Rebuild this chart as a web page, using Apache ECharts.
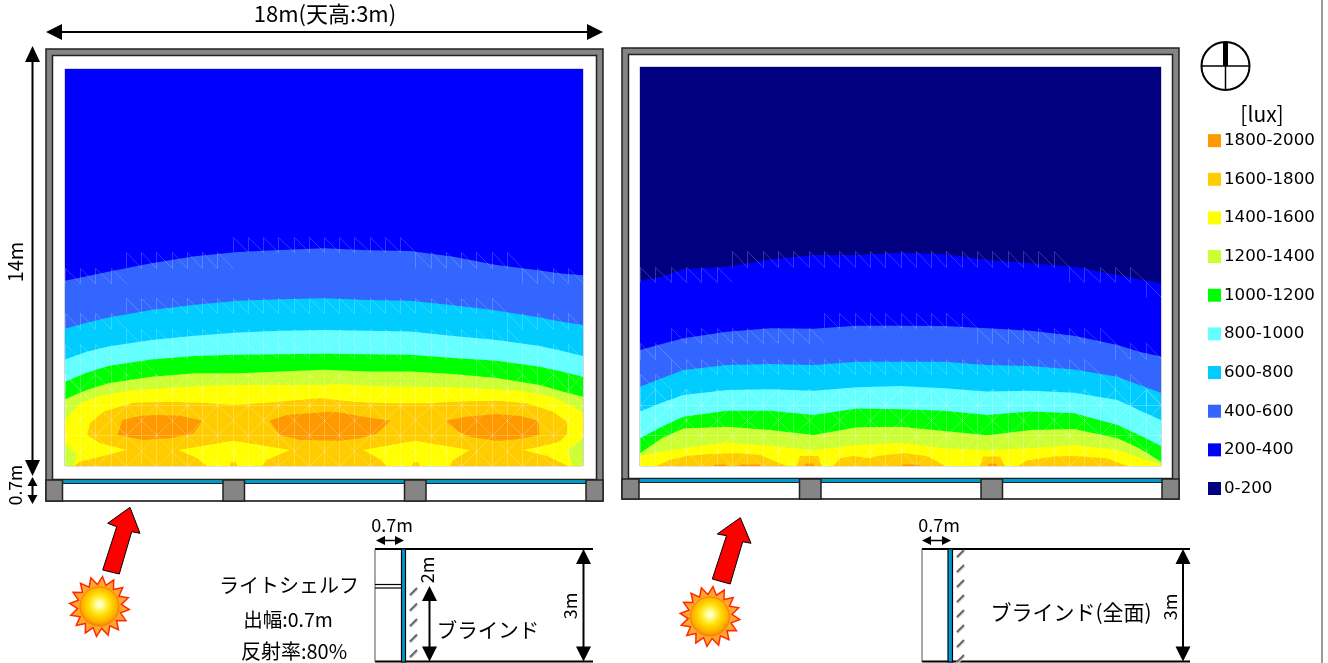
<!DOCTYPE html>
<html><head><meta charset="utf-8">
<style>html,body{margin:0;padding:0;background:#fff}#c{width:1328px;height:663px}</style>
<script src="https://cdn.jsdelivr.net/npm/echarts@6/dist/echarts.min.js"></script>
</head><body><div id="c"></div>
<script>
// Illuminance bands (legend order, top to bottom)
const bandNames = ['1800-2000','1600-1800','1400-1600','1200-1400','1000-1200','800-1000','600-800','400-600','200-400','0-200'];
const bandColors = ['#ff9900','#ffcc00','#ffff00','#ccff33','#00ff00','#66ffff','#00ccff','#3366ff','#0000ff','#000080'];
// Contour heights (metres from the window wall) at xSamples metres along the 18 m wall
const xSamples = [0,.75,1.5,3,4.5,6,7.5,9,10.5,12,13.5,15,16.5,17.25,18];
// Left room: light shelf + blind
const L_400  = [6.53,6.69,6.85,7.15,7.40,7.55,7.62,7.68,7.61,7.58,7.38,7.09,6.89,6.79,6.73];
const L_600  = [4.84,5.05,5.24,5.50,5.69,5.83,5.88,5.92,5.85,5.83,5.67,5.48,5.24,5.09,4.97];
const L_800  = [3.76,4.03,4.21,4.44,4.59,4.71,4.77,4.80,4.77,4.74,4.58,4.44,4.23,4.06,3.88];
const L_1000 = [2.97,3.29,3.53,3.76,3.88,3.92,3.94,3.96,3.94,3.92,3.81,3.71,3.50,3.33,3.15];
const L_1200 = [2.35,2.68,2.92,3.15,3.27,3.27,3.33,3.39,3.33,3.33,3.24,3.10,2.86,2.64,2.44];
const L_1400 = [[0,1.62],[.52,2.21],[1.22,2.47],[2.36,2.68],[3.54,2.74],[4.69,2.82],[5.84,2.86],[7.02,2.86],[8.86,2.86],[9.45,2.89],[11.19,2.80],[13.48,2.78],[15.81,2.66],[16.96,2.44],[17.89,1.97],[18,1.86],[18,.99],[17.48,.56],[17.65,0],[.28,0],[.42,.39],[0,.78]];
const L_1600 = [[.77,1.09],[.87,1.51],[1.33,1.91],[2.37,2.23],[3.53,2.27],[4.69,2.23],[5.85,2.15],[7.01,2.23],[8.86,2.39],[10.01,2.27],[11.19,2.21],[12.68,2.21],[13.48,2.27],[15.01,2.30],[16.05,2.21],[16.96,1.91],[17.44,1.56],[17.45,1.15],[17.20,.86],[16.50,.68],[15.91,.56],[16.75,.35],[17.48,0],[13.38,0],[13.49,.21],[14.07,.56],[12.16,.89],[10.36,.56],[10.95,.24],[11.18,0],[6.83,0],[7.01,.21],[7.82,.56],[5.85,.89],[3.94,.56],[4.58,.28],[4.92,0],[.31,0],[.52,.15],[1.22,.33],[2.14,.56],[1.22,.80]];
const L_1600_spot1 = [[5.73,0],[5.77,.13],[5.94,.13],[5.98,0]];
const L_1600_spot2 = [[12.06,0],[12.10,.13],[12.29,.13],[12.33,0]];
const L_1800_a = [[1.82,1.09],[2.00,1.62],[2.61,1.77],[3.19,1.80],[4.00,1.77],[4.78,1.60],[4.46,1.15],[3.65,.98],[2.72,.92]];
const L_1800_b = [[7.10,1.60],[7.70,1.80],[9.21,1.91],[9.55,1.89],[10.36,1.74],[11.32,1.60],[10.83,1.15],[10.25,.98],[9.55,.89],[8.17,.92],[7.47,1.09]];
const L_1800_c = [[13.20,1.60],[13.96,1.74],[15.0,1.83],[15.81,1.76],[16.45,1.60],[16.48,1.09],[15.81,.95],[15.0,.88],[14.07,1.03],[13.67,1.21]];
// Right room: blind over the whole window
const R_200  = [6.49,6.64,6.90,6.99,7.25,7.40,7.40,7.48,7.44,7.23,7.11,6.99,6.70,6.55,6.41];
const R_400  = [4.07,4.28,4.48,4.71,4.83,4.82,4.92,4.92,4.91,4.83,4.75,4.57,4.25,4.01,3.84];
const R_600  = [2.78,3.08,3.37,3.54,3.58,3.54,3.66,3.66,3.66,3.54,3.51,3.39,3.13,2.84,2.57];
const R_800  = [1.91,2.22,2.49,2.67,2.69,2.64,2.76,2.81,2.73,2.61,2.64,2.57,2.32,1.96,1.61];
const R_1000 = [.97,1.38,1.73,1.94,1.94,1.79,2.02,1.99,1.94,1.79,1.91,1.85,1.44,1.09,.70];
const R_1200 = [.45,.97,1.32,1.38,1.26,1.09,1.36,1.38,1.23,1.08,1.26,1.30,.97,.62,.15];
const R_1400 = [.35,.50,.62,.83,.70,.56,.74,.82,.62,.56,.62,.74,.56,.31,.04];
const R_1600_a = [[.58,0],[1.04,.21],[1.61,.35],[2.42,.42],[3.34,.45],[4.15,.39],[5.07,0]];
const R_1600_b = [[5.41,0],[5.53,.35],[6.16,.35],[6.28,0]];
const R_1600_c = [[6.68,0],[6.91,.27],[7.37,.35],[7.95,.27],[8.18,.35],[9.10,.45],[9.91,.35],[10.54,0]];
const R_1600_d = [[11.75,0],[11.86,.33],[12.44,.33],[12.61,0]];
const R_1600_e = [[13.07,0],[13.36,.19],[14.28,.33],[14.97,.35],[16.13,.27],[16.82,0]];
const R_1800_a = [[5.68,0],[5.72,.09],[5.98,.09],[6.02,0]];
const R_1800_b = [[2.55,0],[2.6,.05],[2.95,.05],[3.0,0]];
const R_1800_c = [[3.4,0],[3.5,.05],[4.1,.05],[4.2,0]];
const R_1800_d = [[9.0,0],[9.1,.05],[9.6,.05],[9.7,0]];
const R_1800_e = [[12.0,0],[12.05,.08],[12.3,.08],[12.35,0]];

const FONT = '"Noto Sans CJK JP","Noto Sans",sans-serif';
const W = 18, H = 14;
const full = [[0,0],[0,H],[W,H],[W,0]];
const under = hs => xSamples.map((x,i)=>[x,hs[i]]).concat([[W,0],[0,0]]);

function interp(hs,x){
  for(let i=0;i<xSamples.length-1;i++){
    if(x<=xSamples[i+1]){const t=(x-xSamples[i])/(xSamples[i+1]-xSamples[i]);return hs[i]+t*(hs[i+1]-hs[i]);}
  }
  return hs[hs.length-1];
}
// faint triangulation of the calculation mesh, seen around the contours
function meshRender(contours, denseH, alphaTop, alphaLow){
  return function(params, api){
    const dx=W/34, dy=H/26, kids=[];
    const seg=(x1,y1,x2,y2,a)=>{
      if(x2>W+1e-6||x1<0||y1<0||y2<0)return;
      const p=api.coord([x1,y1]),q=api.coord([x2,y2]);
      kids.push({type:'line',silent:true,shape:{x1:Math.round(p[0])+.5,y1:Math.round(p[1])+.5,x2:Math.round(q[0])+.5,y2:Math.round(q[1])+.5},style:{stroke:'rgba(255,255,255,'+a+')',lineWidth:1}});
    };
    contours.forEach(hs=>{
      for(let c=0;c<34;c++){
        const x=c*dx, r=Math.floor(interp(hs,x+dx/2)/dy), y0=r*dy, y1=(r+1)*dy;
        seg(x,y0,x,y1,alphaTop);
        seg(x,y1,x+dx,y0,alphaTop);
      }
    });
    const rows=Math.floor(denseH/dy);
    for(let r=0;r<rows;r++)for(let c=0;c<34;c++){
      const x=c*dx,y=r*dy;
      seg(x,y,x,y+dy,alphaLow);
      if(r%2===0) seg(x,y,x+dx,y,alphaLow);
      if((r+c)%2===0) seg(x,y,x+dx,y+dy,alphaLow); else seg(x,y+dy,x+dx,y,alphaLow);
    }
    return {type:'group',children:kids};
  };
}
function bandSeries(name, rings, gi){
  const color = bandColors[bandNames.indexOf(name)];
  return {type:'custom',name,xAxisIndex:gi,yAxisIndex:gi,silent:true,clip:true,itemStyle:{color},
    animation:false,data:rings.map(()=>[0,0]),
    renderItem:(params,api)=>({type:'polygon',silent:true,
      shape:{points:rings[params.dataIndex].map(p=>api.coord(p))},style:{fill:color}})};
}
const series = [
  bandSeries('200-400',[full],0),
  bandSeries('400-600',[under(L_400)],0),
  bandSeries('600-800',[under(L_600)],0),
  bandSeries('800-1000',[under(L_800)],0),
  bandSeries('1000-1200',[under(L_1000)],0),
  bandSeries('1200-1400',[under(L_1200)],0),
  bandSeries('1400-1600',[L_1400],0),
  bandSeries('1600-1800',[L_1600,L_1600_spot1,L_1600_spot2],0),
  bandSeries('1800-2000',[L_1800_a,L_1800_b,L_1800_c],0),
  {type:'custom',name:'meshL',xAxisIndex:0,yAxisIndex:0,silent:true,animation:false,data:[[0,0]],renderItem:meshRender([L_400,L_600,L_800,L_1000],3.6,.2,.25)},
  bandSeries('0-200',[full],1),
  bandSeries('200-400',[under(R_200)],1),
  bandSeries('400-600',[under(R_400)],1),
  bandSeries('600-800',[under(R_600)],1),
  bandSeries('800-1000',[under(R_800)],1),
  bandSeries('1000-1200',[under(R_1000)],1),
  bandSeries('1200-1400',[under(R_1200)],1),
  bandSeries('1400-1600',[under(R_1400)],1),
  bandSeries('1600-1800',[R_1600_a,R_1600_b,R_1600_c,R_1600_d,R_1600_e],1),
  bandSeries('1800-2000',[R_1800_a,R_1800_b,R_1800_c,R_1800_d,R_1800_e],1),
  {type:'custom',name:'meshR',xAxisIndex:1,yAxisIndex:1,silent:true,animation:false,data:[[0,0]],renderItem:meshRender([R_200,R_400,R_600],3.0,.2,.25)}
];

// ---- drawing helpers for the architectural annotations ----
const g=[];
const rect=(x,y,w,h,fill,stroke,lw)=>g.push({type:'rect',silent:true,z:-1,shape:{x,y,width:w,height:h},style:{fill,stroke:stroke||null,lineWidth:lw||0}});
const line=(x1,y1,x2,y2,stroke,lw)=>g.push({type:'line',silent:true,z:5,shape:{x1,y1,x2,y2},style:{stroke:stroke||'#000',lineWidth:lw||2}});
const poly=(pts,fill,stroke,lw)=>g.push({type:'polygon',silent:true,z:5,shape:{points:pts},style:{fill,stroke:stroke||null,lineWidth:lw||0}});
const text=(t,x,y,size,rot)=>g.push({type:'text',silent:true,z:6,x,y,rotation:rot||0,style:{text:t,fontFamily:FONT,fontSize:size,fill:'#000',textAlign:'center',textVerticalAlign:'middle'}});
const headL=(x,y,l,w)=>poly([[x,y],[x+l,y-w],[x+l,y+w]],'#000');
const headR=(x,y,l,w)=>poly([[x,y],[x-l,y-w],[x-l,y+w]],'#000');
const headU=(x,y,l,w)=>poly([[x,y],[x-w,y+l],[x+w,y+l]],'#000');
const headD=(x,y,l,w)=>poly([[x,y],[x-w,y-l],[x+w,y-l]],'#000');
function hArrow(x1,x2,y,l,w,lw){line(x1+l/2,y,x2-l/2,y,'#000',lw);headL(x1,y,l,w);headR(x2,y,l,w);}
function vArrow(x,y1,y2,l,w,lw){line(x,y1+l/2,x,y2-l/2,'#000',lw);headU(x,y1,l,w);headD(x,y2,l,w);}

function room(x,y,w,h,inset,innerBottom,pillars){
  rect(x,y,w,h,'#858585','#222',1.5);
  rect(x+inset,y+inset,w-2*inset,innerBottom-y-inset,'#fff','#222',1.5);
  rect(x+1,innerBottom+.5,w-2,h-(innerBottom-y)-1.5,'#fff');
  rect(x,innerBottom+.5,w,3.5,'#0099cc');
  line(x,innerBottom+4,x+w,innerBottom+4,'#222',1.2);
  line(x,y+h,x+w,y+h,'#444',1.5);
  pillars.forEach(p=>g.push({type:'rect',silent:true,z:5,shape:{x:p[0],y:innerBottom+.5,width:p[1],height:y+h-innerBottom-.5},style:{fill:'#858585',stroke:'#222',lineWidth:1.5}}));
}
room(46,49,557,452,6.5,479.5,[[46,16.5],[223,21.5],[404.5,21.5],[586,17]]);
room(622,48,557,451,6.5,478.5,[[622,17],[799.5,21.5],[981,21.5],[1162,17]]);

function sun(cx,cy){
  const pts=[],n=16;
  for(let i=0;i<n*2;i++){const r=i%2?22:30,a=Math.PI*i/n+.1;pts.push([cx+r*Math.cos(a),cy+r*Math.sin(a)]);}
  poly(pts,'#ffa830','#ff2a00',1.5);
  g.push({type:'circle',silent:true,z:6,shape:{cx,cy,r:19.5},style:{fill:{type:'radial',x:.5,y:.45,r:.55,colorStops:[{offset:0,color:'#ffffff'},{offset:.15,color:'#ffff99'},{offset:.5,color:'#ffdd00'},{offset:.8,color:'#ffb000'},{offset:1,color:'#f08000'}]},stroke:'#ff7a00',lineWidth:1}});
}
sun(99.5,606.5); sun(710,616.5);
poly([[130,507.3],[107.7,523.3],[116.7,526.7],[102.7,570],[119.3,574],[131.7,531.7],[140,533.3]],'#ff0000','#000',1);
poly([[740.3,517.7],[717.3,534],[726.5,535.7],[712.3,579],[730.2,584],[742.7,541.7],[751,543.3]],'#ff0000','#000',1);

// top-left dimensions
hArrow(46,603,32,16,8,2);
text('18m(天高:3m)',325,14,22);
vArrow(32.5,46,476,16,7.5,2);
text('14m',15,262,20,Math.PI/2);
vArrow(32.5,477,504,9,5,2);
text('0.7m',15,485,17.5,Math.PI/2);

// compass
g.push({type:'circle',silent:true,z:5,shape:{cx:1225.5,cy:66,r:24},style:{fill:'#fff',stroke:'#000',lineWidth:2}});
line(1201.5,66,1249.5,66,'#000',1.5);
line(1225.5,42,1225.5,90,'#000',1.5);
line(1225.5,42,1225.5,66,'#000',5);
text('[lux]',1262,114,21);
// page edge
line(1322,0,1322,663,'#999',2);

function hatch(x,y1,y2,step){
  for(let y=y1;y+7<=y2+1;y+=step){
    line(x+1,y+8,x+8,y+1,'#d8d8d8',3);
    line(x+1,y+7,x+8,y,'#666',2);
  }
}
function section(x0,xEnd,winX,winW){
  line(x0,549,xEnd,549,'#000',2);
  line(x0,661.5,xEnd,661.5,'#000',2);
  line(x0,549,x0,662,'#555',1);
  g.push({type:'rect',silent:true,z:5,shape:{x:winX,y:549,width:winW,height:113},style:{fill:'#0099cc',stroke:'#000',lineWidth:1.2}});
}
// left section
text('0.7m',392,525,18);
hArrow(376,404,540.5,9,4.5,1.5);
section(375,593,401.5,4);
line(375,584.5,402,584.5,'#000',1.2);line(375,588,402,588,'#000',1.2);
hatch(409,588,661,15.5);
vArrow(429.5,586,661.5,15,7.5,2);
text('2m',427,570,18,Math.PI/2);
text('ブラインド',488,630,20.5);
vArrow(583.5,549,661.5,15,7.5,2);
text('3m',570,606,18,Math.PI/2);
text('ライトシェルフ',289,585,20);
text('出幅:0.7m',288,620,19.5);
text('反射率:80%',294,651,20);
// right section
text('0.7m',939,525,18);
hArrow(922,951,540.5,9,4.5,1.5);
section(922,1190,948,4.5);
hatch(956,550,661,15);
vArrow(1183,549,661.5,15,7.5,2);
text('ブラインド(全面)',1071,612,21);
text('3m',1170,607,18,Math.PI/2);

const chart = echarts.init(document.getElementById('c'),null,{renderer:'canvas'});
chart.setOption({
  animation:false,
  backgroundColor:'#fff',
  grid:[
    {left:65,top:69,width:518,height:397,show:true,borderColor:'#aaa',borderWidth:1,containLabel:false},
    {left:640,top:67,width:521,height:399,show:true,borderColor:'#aaa',borderWidth:1,containLabel:false}
  ],
  xAxis:[
    {type:'value',gridIndex:0,min:0,max:W,show:false},
    {type:'value',gridIndex:1,min:0,max:W,show:false}
  ],
  yAxis:[
    {type:'value',gridIndex:0,min:0,max:H,show:false},
    {type:'value',gridIndex:1,min:0,max:H,show:false}
  ],
  legend:{
    data:bandNames,orient:'vertical',left:1208,top:129,selectedMode:false,
    icon:'rect',itemWidth:13,itemHeight:13,itemGap:15.35,padding:0,
    textStyle:{fontFamily:'"DejaVu Sans",sans-serif',fontSize:16.7,color:'#000',padding:[0,0,0,-2],lineHeight:23.3}
  },
  tooltip:{show:false},
  graphic:{elements:g},
  series
});
</script></body></html>
